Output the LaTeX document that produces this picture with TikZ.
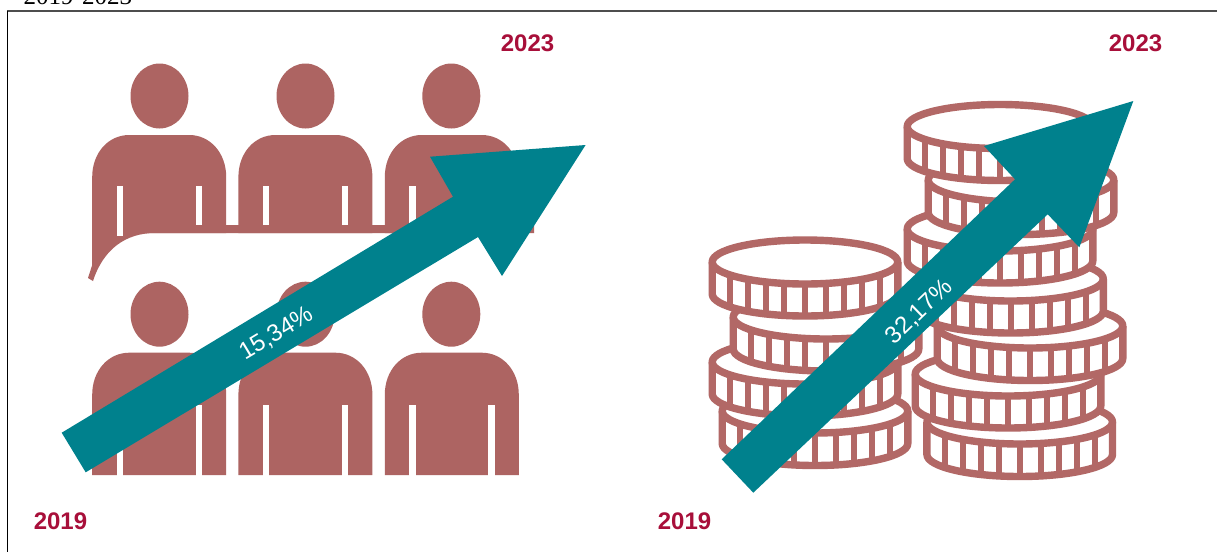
\documentclass[tikz,border=0pt]{standalone}
\usepackage{fontspec}
\setmainfont{Liberation Sans}
\newfontfamily\titlefont{Liberation Serif}
\definecolor{peoplecol}{HTML}{AD6462}
\definecolor{coincol}{HTML}{B26866}
\definecolor{arrowcol}{HTML}{00818D}
\definecolor{yearcol}{HTML}{A80F3A}
\definecolor{framecol}{HTML}{4D4D4D}
\tikzset{
  yearlabel/.style={text=yearcol,font=\fontsize{24}{28}\selectfont\bfseries,inner sep=0pt,anchor=base},
  pctlabel/.style={text=white,font=\fontsize{24}{28}\selectfont,inner sep=0pt},
  bigarrow/.style={fill=arrowcol,draw=none},
  coinline/.style={draw=coincol,line width=7.4pt,line join=round},
  coinbar/.style={draw=coincol,line width=6pt}
}
\newcommand{\personshape}[3]{% left x, top y, bottom y
  \fill[peoplecol] (#1,#3) -- (#1,#2+42) .. controls (#1,#2+18) and (#1+16,#2) .. (#1+37,#2)
    -- (#1+97,#2) .. controls (#1+118,#2) and (#1+134,#2+18) .. (#1+134,#2+42) -- (#1+134,#3) -- cycle;
}
\newcommand{\headshape}[2]{\fill[peoplecol] (#1,#2) ellipse [x radius=29,y radius=32.5];}
\newcommand{\slitpair}[3]{% left x of person, top, bottom
  \fill[white] (#1+24.6,#2) rectangle (#1+31,#3);
  \fill[white] (#1+103.6,#2) rectangle (#1+110,#3);
}
\newcommand{\coinshape}[3]{% cx, upper cy, lower cy
  \fill[white] (#1-92.8,#2) arc [start angle=180,end angle=360,x radius=92.8,y radius=22]
     -- (#1+92.8,#3) arc [start angle=0,end angle=180,x radius=92.8,y radius=22] -- cycle;
  \foreach \dx in {-75,-57,-39,-21,0,21,39,57,75}{
    \pgfmathsetmacro{\dy}{22*sqrt(1-(\dx/92.8)*(\dx/92.8))}
    \draw[coinbar] (#1+\dx,#2+\dy) -- (#1+\dx,#3+\dy);
  }
  \draw[coinline] (#1,#2) ellipse [x radius=92.8,y radius=22];
  \draw[coinline] (#1-92.8,#2) -- (#1-92.8,#3) arc [start angle=180,end angle=0,x radius=92.8,y radius=22] -- (#1+92.8,#2);
}
\begin{document}
\begin{tikzpicture}[x=1pt,y=-1pt]
\useasboundingbox (0,0) rectangle (1217,552);
\fill[white] (0,0) rectangle (1217,552);
% cropped caption and frame
\node[font=\titlefont\fontsize{25}{28}\selectfont,text=black,inner sep=0pt,anchor=base west] (caption) at (23.5,4) {2019-2023};
\draw[framecol,line width=2pt] (1217,11.3) -- (7.3,11.3);
\draw[black,line width=1.6pt] (7.3,10.6) -- (7.3,552);
% people, top row
\foreach \hx in {159.5,305.5,451.3}{\headshape{\hx}{96}}
\foreach \px in {92.2,238.4,384.8}{\personshape{\px}{135}{233}}
\fill[peoplecol] (92.2,225) -- (92.2,265) -- (88,278) -- (93,281)
   .. controls (103,250) and (125,233) .. (155,233) -- (534,233) -- (534,225) -- cycle;
\fill[white] (116.8,186) rectangle (123.2,236);
\fill[white] (195.8,186) rectangle (202,225);
\slitpair{238.4}{186}{225}
\slitpair{384.8}{186}{225}
% people, bottom row
\foreach \hx in {159.5,305.5,451.3}{\headshape{\hx}{314.2}}
\foreach \px in {92.2,238.4,384.8}{\personshape{\px}{352.7}{475}}
\slitpair{92.2}{405}{476}
\slitpair{238.4}{405}{476}
\slitpair{384.8}{405}{476}
% coins, left stack
\coinshape{815}{411}{443.5}
\coinshape{805}{362}{394}
\coinshape{826}{317}{349}
\coinshape{805}{262}{294}
% coins, right stack
\coinshape{1019.7}{422}{454.5}
\coinshape{1008}{374}{406}
\coinshape{1030}{326}{358.5}
\coinshape{1010.5}{279}{311}
\coinshape{1000}{229}{261}
\coinshape{1021}{180}{212.5}
\coinshape{1000}{126.5}{158.5}
% arrows
\fill[bigarrow] (61.7,432.7) -- (453,196.7) -- (430,156.7) -- (585.6,145) -- (502,276) -- (478,237) -- (85.7,472.3) -- cycle;
\fill[bigarrow] (721.7,459.3) -- (1015,179.3) -- (984,146) -- (1133.3,101) -- (1079.3,247.3) -- (1047.7,214.3) -- (753.3,492.7) -- cycle;
% labels
\node[pctlabel,rotate=31] (pctA) at (276.5,334) {15,34\%};
\node[pctlabel,rotate=44] (pctB) at (919.5,312) {32,17\%};
\node[yearlabel] (yA) at (527.5,51) {2023};
\node[yearlabel] (yB) at (1135.5,51) {2023};
\node[yearlabel] (yC) at (60.5,529) {2019};
\node[yearlabel] (yD) at (684.5,529) {2019};
\end{tikzpicture}
\end{document}
